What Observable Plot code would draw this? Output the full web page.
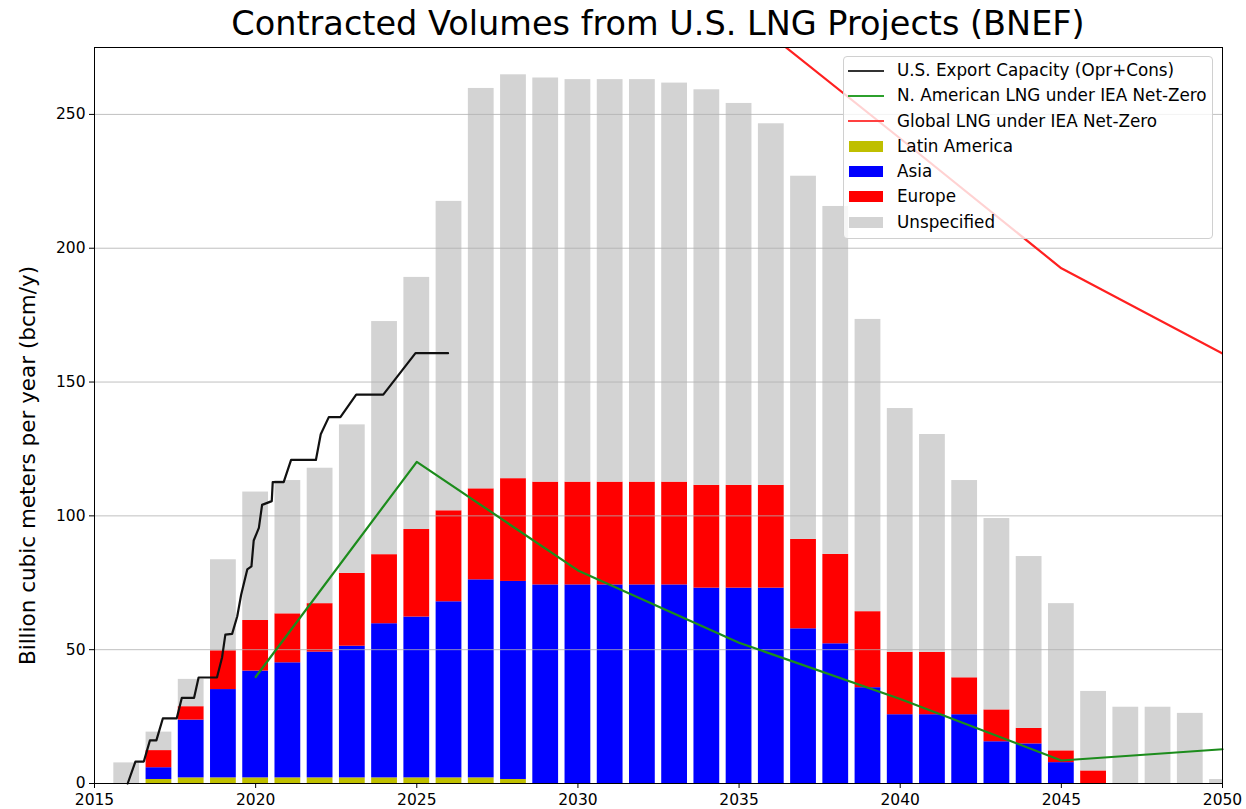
<!DOCTYPE html>
<html>
<head>
<meta charset="utf-8">
<script src="https://cdn.jsdelivr.net/npm/d3@7"></script>
<script src="https://cdn.jsdelivr.net/npm/@observablehq/plot@0.6"></script>
<style>
  body { margin: 0; background: #fff; font-family: "DejaVu Sans", sans-serif; }
  #wrap { position: relative; width: 1246px; height: 809px; overflow: hidden; }
  #title { position: absolute; left: 94px; width: 1128px; top: 4px; text-align: center;
           font-size: 33.5px; line-height: 40px; color: #000; }
  #chart { position: absolute; left: 0; top: 40px; }
  #legend { position: absolute; left: 843px; top: 56px; width: 368px; height: 181px;
            background: rgba(255,255,255,0.8); border: 1px solid #d0d0d0; border-radius: 4px;
            font-size: 16.8px; color: #000; }
  .row { position: absolute; left: 0; height: 25px; width: 100%; }
  .row .txt { position: absolute; left: 53px; top: 0; line-height: 25px; white-space: nowrap; }
  .row .ln { position: absolute; left: 4px; width: 36px; top: 11.5px; height: 2px; }
  .row .pt { position: absolute; left: 5px; width: 34px; top: 7px; height: 11px; }
</style>
</head>
<body>
<div id="wrap">
  <div id="title">Contracted Volumes from U.S. LNG Projects (BNEF)</div>
  <div id="chart"></div>
  <div id="legend"></div>
</div>
<script>
// ---- Data ----
const years = [2016,2017,2018,2019,2020,2021,2022,2023,2024,2025,2026,2027,2028,2029,2030,2031,2032,2033,2034,2035,2036,2037,2038,2039,2040,2041,2042,2043,2044,2045,2046,2047,2048,2049,2050];
const latinAmerica = [0,1.5,2.1,2.1,2.1,2.1,2.1,2.1,2.1,2.1,2.1,2.1,1.5,0,0,0,0,0,0,0,0,0,0,0,0,0,0,0,0,0,0,0,0,0,0];
const asia = [0,4.4,21.6,33.0,39.9,43.0,47.0,49.2,57.6,60.1,65.8,74.0,74.0,74.2,74.2,74.2,74.2,74.2,73.0,73.0,73.0,57.8,52.2,35.8,25.7,25.7,25.7,15.6,14.8,7.8,0,0,0,0,0];
const europe = [0,6.4,5.0,14.5,18.9,18.3,18.1,27.2,25.8,32.7,34.0,34.0,38.4,38.4,38.4,38.4,38.4,38.4,38.4,38.4,38.4,33.4,33.4,28.4,23.3,23.3,13.8,11.9,5.8,4.4,4.7,0,0,0,0];
const unspecified = [7.7,6.9,10.2,34.0,48.0,49.8,50.6,55.5,87.1,94.2,115.6,149.6,150.9,151.0,150.4,150.4,150.4,149.1,147.8,142.7,135.1,135.7,130.0,109.2,91.1,81.4,73.7,71.5,64.2,55.0,29.7,28.5,28.5,26.2,1.5];

const capacityTime = [2016.03,2016.27,2016.53,2016.72,2016.92,2017.12,2017.55,2017.71,2018.09,2018.23,2018.8,2018.96,2019.06,2019.27,2019.43,2019.55,2019.74,2019.87,2019.94,2020.1,2020.2,2020.5,2020.53,2020.87,2021.1,2021.87,2022.02,2022.27,2022.63,2023.12,2023.96,2024.96,2025.97];
const capacityValue = [0,8.2,8.2,16.1,16.1,24.3,24.3,32.0,32.0,39.6,39.6,47.2,55.6,55.9,62.5,70.5,80.0,81.1,90.8,95.5,104.1,105.5,112.6,112.6,120.9,120.9,130.5,136.9,136.9,145.3,145.3,160.8,160.8];

const nzYears = [2020,2025,2030,2035,2040,2045,2050];
const naNetZero = [39.8,120.2,79.6,52.6,31.6,8.6,12.8];
const globalYears = [2035,2040,2045,2050];
const globalNetZero = [289,241,192.5,160.7];

const xTicks = [2015,2020,2025,2030,2035,2040,2045,2050];
const yTicks = [0,50,100,150,200,250];

const seriesNames = ["Latin America","Asia","Europe","Unspecified"];
const seriesColors = ["#bfbf00","#0000ff","#ff0000","#d3d3d3"];
const seriesValues = [latinAmerica, asia, europe, unspecified];

// ---- Tables built from the arrays ----
const bars = [];
years.forEach((yr, i) => {
  let base = 0;
  seriesNames.forEach((name, k) => {
    const v = seriesValues[k][i];
    if (v > 0) bars.push({year: yr, series: name, y1: base, y2: base + v});
    base += v;
  });
});
const capacity = capacityTime.map((t, i) => ({t, v: capacityValue[i]}));
const naLine = nzYears.map((t, i) => ({t, v: naNetZero[i]}));
const glLine = globalYears.map((t, i) => ({t, v: globalNetZero[i]}));

const chart = Plot.plot({
  width: 1246,
  height: 769,
  marginTop: 7,
  marginBottom: 26,
  marginLeft: 94,
  marginRight: 24,
  style: {fontFamily: "DejaVu Sans, sans-serif", background: "white", color: "#000"},
  x: {domain: [2015, 2050]},
  y: {domain: [0, 275]},
  color: {domain: seriesNames, range: seriesColors},
  marks: [
    Plot.rectY(bars, {
      x1: d => d.year - 0.4,
      x2: d => d.year + 0.4,
      y1: "y1", y2: "y2",
      fill: "series",
      clip: true
    }),
    Plot.gridY(yTicks, {stroke: "#b0b0b0", strokeOpacity: 0.8, strokeWidth: 1}),
    Plot.line(capacity, {x: "t", y: "v", stroke: "#111", strokeWidth: 2.2}),
    Plot.line(naLine, {x: "t", y: "v", stroke: "#1c8c1c", strokeWidth: 2.2}),
    Plot.line(glLine, {x: "t", y: "v", stroke: "#ff2020", strokeWidth: 2.2, clip: true}),
    Plot.frame({stroke: "#000", strokeWidth: 1}),
    Plot.axisX(xTicks, {tickSize: 5, tickPadding: 5, fontSize: 15.5, tickFormat: d => String(d), label: null, stroke: "#000"}),
    Plot.axisY(yTicks, {tickSize: 5, tickPadding: 4, fontSize: 15.5, tickFormat: d => String(d), label: null, stroke: "#000"}),
    Plot.text(["Billion cubic meters per year (bcm/y)"], {
      frameAnchor: "left", rotate: -90, dx: -66, dy: 50, fontSize: 21.5, fill: "#000",
      textAnchor: "middle", lineAnchor: "middle"
    })
  ]
});
document.getElementById("chart").appendChild(chart);

// ---- Legend ----
const legendItems = [
  {label: "U.S. Export Capacity (Opr+Cons)", kind: "line", color: "#333"},
  {label: "N. American LNG under IEA Net-Zero", kind: "line", color: "#2ca02c"},
  {label: "Global LNG under IEA Net-Zero", kind: "line", color: "#ff4040"},
  ...seriesNames.map((n, k) => ({label: n, kind: "patch", color: seriesColors[k]}))
];
const legend = document.getElementById("legend");
legendItems.forEach((it, i) => {
  const row = document.createElement("div");
  row.className = "row";
  row.style.top = (1 + i * 25.27) + "px";
  const h = document.createElement("div");
  h.className = it.kind === "line" ? "ln" : "pt";
  h.style.background = it.color;
  const t = document.createElement("div");
  t.className = "txt";
  t.textContent = it.label;
  row.appendChild(h);
  row.appendChild(t);
  legend.appendChild(row);
});
</script>
</body>
</html>
